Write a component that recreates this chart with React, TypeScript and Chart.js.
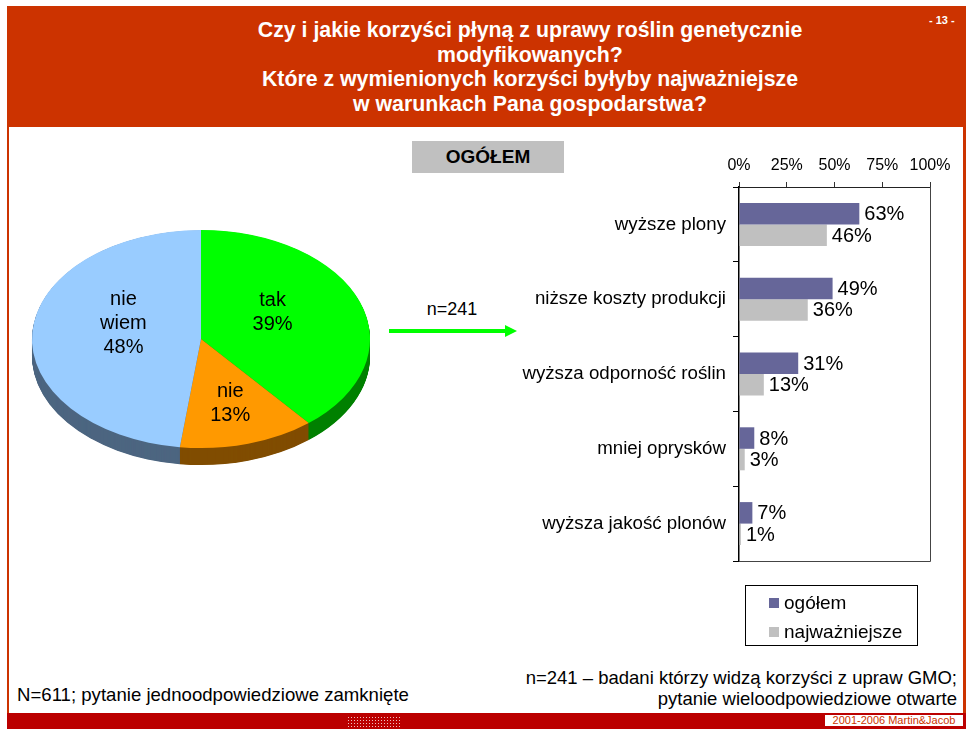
import React, { useEffect, useRef } from "react";
import { Chart, registerables } from "chart.js";

Chart.register(...registerables);
Chart.defaults.font.family = "'Liberation Sans', Arial, sans-serif";
Chart.defaults.color = "#000";

// ---------- data ----------
const pieLabels = ["tak", "nie", "nie wiem"];
const pieValues = [39, 13, 48];
const pieTopColors = ["#00FF00", "#FF9900", "#99CCFF"];
const pieSideColors = ["#008000", "#804D00", "#4D6680"];

const barCategories = [
  "wyższe plony",
  "niższe koszty produkcji",
  "wyższa odporność roślin",
  "mniej oprysków",
  "wyższa jakość plonów",
];
const seriesNames = ["ogółem", "najważniejsze"];
const seriesOgolem = [63, 49, 31, 8, 7];
const seriesNajwazniejsze = [46, 36, 13, 3, 1];
const seriesColors = ["#666699", "#C0C0C0"];
const xTicks = [0, 25, 50, 75, 100];

// ---------- pie (3D look) ----------
const SY = 109 / 169;
const DEPTH = 17;
const labelPlace = [
  { f: 0.45, dy: -10 },
  { f: 0.62, dy: 0 },
  { f: 0.46, dy: -12 },
];

function PieChart() {
  const ref = useRef<HTMLCanvasElement>(null);
  useEffect(() => {
    const pie3d = {
      id: "pie3d",
      beforeDatasetsDraw(chart: any) {
        const meta = chart.getDatasetMeta(0);
        const ctx = chart.ctx;
        const a0 = meta.data[0];
        const cx = a0.x,
          cy = a0.y;
        ctx.save();
        ctx.translate(cx, cy);
        ctx.scale(1, SY);
        ctx.translate(-cx, -cy);
        for (let d = DEPTH; d >= 0.5; d -= 0.5) {
          meta.data.forEach((arc: any, i: number) => {
            const p = arc.getProps(["startAngle", "endAngle", "outerRadius"], true);
            ctx.fillStyle = pieSideColors[i];
            ctx.beginPath();
            ctx.moveTo(cx, cy + d / SY);
            ctx.arc(cx, cy + d / SY, p.outerRadius, p.startAngle, p.endAngle);
            ctx.closePath();
            ctx.fill();
          });
        }
      },
      afterDatasetsDraw(chart: any) {
        const ctx = chart.ctx;
        ctx.restore();
        const meta = chart.getDatasetMeta(0);
        ctx.save();
        ctx.fillStyle = "#000";
        ctx.font = "20px 'Liberation Sans', Arial, sans-serif";
        ctx.textAlign = "center";
        ctx.textBaseline = "middle";
        meta.data.forEach((arc: any, i: number) => {
          const p = arc.getProps(["x", "y", "startAngle", "endAngle", "outerRadius"], true);
          const mid = (p.startAngle + p.endAngle) / 2;
          const r = p.outerRadius * labelPlace[i].f;
          const x = p.x + Math.cos(mid) * r;
          const y = p.y + Math.sin(mid) * r * SY + labelPlace[i].dy;
          const lines = [...pieLabels[i].split(" "), pieValues[i] + "%"];
          const lh = 24;
          lines.forEach((t, k) => {
            ctx.fillText(t, x, y + (k - (lines.length - 1) / 2) * lh);
          });
        });
        ctx.restore();
      },
    };
    const chart = new Chart(ref.current!, {
      type: "pie",
      data: {
        labels: pieLabels,
        datasets: [
          {
            data: pieValues,
            backgroundColor: pieTopColors,
            borderWidth: 0,
          },
        ],
      },
      options: {
        responsive: false,
        animation: false,
        layout: { padding: { left: 16, right: 16, top: 31, bottom: 31 } },
        plugins: { legend: { display: false }, tooltip: { enabled: false } },
      },
      plugins: [pie3d],
    } as any);
    return () => chart.destroy();
  }, []);
  return (
    <canvas
      ref={ref}
      width={370}
      height={400}
      style={{ position: "absolute", left: 16, top: 139, width: 370, height: 400 }}
    />
  );
}

// ---------- bar chart ----------
function BarChart() {
  const ref = useRef<HTMLCanvasElement>(null);
  useEffect(() => {
    const extras = {
      id: "extras",
      afterDatasetsDraw(chart: any) {
        const ctx = chart.ctx;
        ctx.save();
        ctx.fillStyle = "#000";
        ctx.font = "20px 'Liberation Sans', Arial, sans-serif";
        ctx.textAlign = "left";
        ctx.textBaseline = "middle";
        chart.data.datasets.forEach((ds: any, i: number) => {
          const meta = chart.getDatasetMeta(i);
          meta.data.forEach((bar: any, j: number) => {
            ctx.fillText(ds.data[j] + "%", bar.x + 5, bar.y + 1);
          });
        });
        ctx.restore();
      },
      afterDraw(chart: any) {
        const ctx = chart.ctx;
        const a = chart.chartArea;
        ctx.save();
        // box right & bottom
        ctx.strokeStyle = "#444";
        ctx.lineWidth = 1;
        ctx.beginPath();
        ctx.moveTo(Math.round(a.right) + 0.5, a.top);
        ctx.lineTo(Math.round(a.right) + 0.5, Math.round(a.bottom) + 0.5);
        ctx.lineTo(a.left, Math.round(a.bottom) + 0.5);
        ctx.stroke();
        // legend
        const lx = Math.round(a.left) + 6.5;
        const ly = Math.round(a.bottom) + 24.5;
        ctx.strokeStyle = "#000";
        ctx.strokeRect(lx, ly, 172, 60);
        ctx.font = "19px 'Liberation Sans', Arial, sans-serif";
        ctx.textBaseline = "middle";
        ctx.textAlign = "left";
        chart.data.datasets.forEach((ds: any, i: number) => {
          const cy = a.bottom + 42 + i * 29;
          ctx.fillStyle = ds.backgroundColor;
          ctx.fillRect(Math.round(a.left) + 30, Math.round(cy - 5), 10, 10);
          ctx.fillStyle = "#000";
          ctx.fillText(ds.label, Math.round(a.left) + 45, cy + 1);
        });
        ctx.restore();
      },
    };
    const chart = new Chart(ref.current!, {
      type: "bar",
      data: {
        labels: barCategories,
        datasets: [
          {
            label: seriesNames[0],
            data: seriesOgolem,
            backgroundColor: seriesColors[0],
            categoryPercentage: 0.575,
            barPercentage: 1,
          },
          {
            label: seriesNames[1],
            data: seriesNajwazniejsze,
            backgroundColor: seriesColors[1],
            categoryPercentage: 0.575,
            barPercentage: 1,
          },
        ],
      },
      options: {
        indexAxis: "y",
        responsive: false,
        animation: false,
        layout: { padding: { left: 0, right: 30, top: 0, bottom: 99 } },
        plugins: { legend: { display: false }, tooltip: { enabled: false } },
        scales: {
          x: {
            position: "top",
            min: 0,
            max: 100,
            afterBuildTicks: (s: any) => {
              s.ticks = xTicks.map((v) => ({ value: v }));
            },
            ticks: {
              callback: (v: any) => v + "%",
              color: "#000",
              font: { size: 16 },
              padding: 7,
              maxRotation: 0,
            },
            grid: { drawOnChartArea: false, drawTicks: true, tickLength: 5, color: "#333" },
            border: { display: true, color: "#222", width: 1 },
            afterFit: (s: any) => {
              s.height = 47;
            },
          },
          y: {
            ticks: { color: "#000", font: { size: 18.7 }, padding: 7 },
            grid: { offset: true, drawOnChartArea: false, drawTicks: true, tickLength: 6, color: "#000" },
            border: { display: true, color: "#000", width: 1.5 },
            afterFit: (s: any) => {
              s.width = 339;
            },
          },
        },
      },
      plugins: [extras],
    } as any);
    return () => chart.destroy();
  }, []);
  return (
    <canvas
      ref={ref}
      width={560}
      height={520}
      style={{ position: "absolute", left: 400, top: 140, width: 560, height: 520 }}
    />
  );
}

const RED = "#CC3300";
const DARKRED = "#BB0000";
const FONT = "'Liberation Sans', Arial, sans-serif";

export default function App() {
  const abs = (s: React.CSSProperties): React.CSSProperties => ({ position: "absolute", ...s });
  return (
    <div
      style={{
        position: "absolute",
        left: 0,
        top: 0,
        width: 970,
        height: 729,
        background: "#fff",
        overflow: "hidden",
        fontFamily: FONT,
      }}
    >
      {/* header */}
      <div style={abs({ left: 7, top: 6, width: 959, height: 121, background: RED })} />
      <div
        style={abs({
          left: 80,
          top: 18,
          width: 900,
          textAlign: "center",
          color: "#fff",
          fontWeight: "bold",
          fontSize: 21.3,
          lineHeight: "24.7px",
        })}
      >
        Czy i jakie korzyści płyną z uprawy roślin genetycznie
        <br />
        modyfikowanych?
        <br />
        Które z wymienionych korzyści byłyby najważniejsze
        <br />w warunkach Pana gospodarstwa?
      </div>
      <div style={abs({ left: 929, top: 14, color: "#fff", fontWeight: "bold", fontSize: 11 })}>- 13 -</div>

      {/* side borders */}
      <div style={abs({ left: 7, top: 127, width: 2, height: 586, background: RED })} />
      <div style={abs({ left: 963, top: 127, width: 3, height: 586, background: RED })} />

      {/* bottom bar */}
      <div style={abs({ left: 7, top: 713, width: 959, height: 16, background: DARKRED })} />
      <div
        style={abs({
          left: 347,
          top: 716,
          width: 54,
          height: 12,
          backgroundImage: "radial-gradient(rgba(255,255,255,0.75) 0.7px, transparent 0.9px)",
          backgroundSize: "3px 3px",
        })}
      />
      <div
        style={abs({
          left: 825,
          top: 715,
          width: 138,
          height: 11,
          background: "#fff",
          color: RED,
          fontSize: 11,
          lineHeight: "11px",
          textAlign: "center",
        })}
      >
        2001-2006 Martin&amp;Jacob
      </div>

      {/* OGÓŁEM box */}
      <div
        style={abs({
          left: 412,
          top: 141,
          width: 152,
          height: 32,
          background: "#C0C0C0",
          fontWeight: "bold",
          fontSize: 19,
          lineHeight: "32px",
          textAlign: "center",
        })}
      >
        OGÓŁEM
      </div>

      {/* n=241 + arrow */}
      <div style={abs({ left: 402, top: 298, width: 100, textAlign: "center", fontSize: 18, lineHeight: "22px" })}>
        n=241
      </div>
      <svg style={abs({ left: 385, top: 320 })} width={140} height={24}>
        <rect x={4} y={9} width={118} height={4} fill="#00FF00" />
        <polygon points="120,5 132,11 120,17" fill="#00FF00" />
      </svg>

      <PieChart />
      <BarChart />

      {/* footers */}
      <div style={abs({ left: 17, top: 684, fontSize: 18.6, lineHeight: "22px", whiteSpace: "nowrap" })}>
        N=611; pytanie jednoodpowiedziowe zamknięte
      </div>
      <div
        style={abs({
          right: 13,
          top: 667,
          fontSize: 18.5,
          lineHeight: "21px",
          textAlign: "right",
          whiteSpace: "nowrap",
        })}
      >
        n=241 – badani którzy widzą korzyści z upraw GMO;
        <br />
        pytanie wieloodpowiedziowe otwarte
      </div>
    </div>
  );
}
